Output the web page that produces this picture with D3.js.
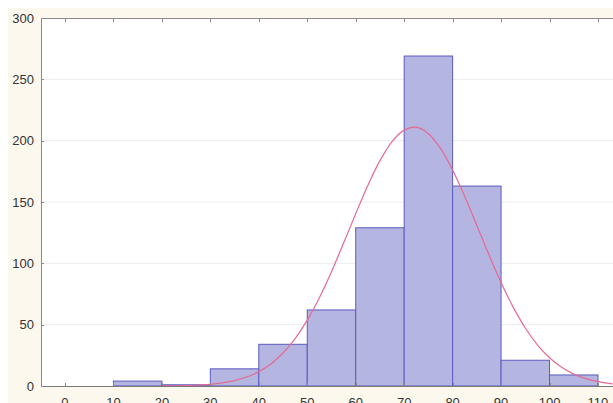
<!DOCTYPE html>
<html><head><meta charset="utf-8">
<script src="https://cdn.jsdelivr.net/npm/d3@7"></script>
<style>html,body{margin:0;padding:0;background:#fff;}svg{display:block;}</style>
</head><body>
<svg id="chart" width="613" height="403"></svg>
<script>
// Histogram bins (lower edge, upper edge) and counts
const binStarts = [0, 10, 20, 30, 40, 50, 60, 70, 80, 90, 100];
const binWidth = 10;
const counts = [0, 4, 1, 14, 34, 62, 129, 269, 163, 21, 9];
// Fitted normal curve
const curveX = [20,22.5,25,27.5,30,32.5,35,37.5,40,42.5,45,47.5,50,52.5,55,57.5,60,62.5,65,67.5,70,72.5,75,77.5,80,82.5,85,87.5,90,92.5,95,97.5,100,102.5,105,107.5,110,112.5,113];
const curveY = [0.1,0.2,0.4,0.8,1.4,2.6,4.4,7.3,11.7,18.0,26.9,38.7,53.7,72.0,93.2,116.5,140.4,163.5,183.7,199.3,208.6,211,205.7,193.7,176.1,154.5,130.9,107.0,84.4,64.3,47.3,33.6,23.0,15.2,9.7,6.0,3.6,2.0,1.7];
const xTicks = [0,10,20,30,40,50,60,70,80,90,100,110];
const yTicks = [0,50,100,150,200,250,300];

const svg = d3.select("#chart");
const L = 41, R = 613, T = 18, B = 386;
const x = d3.scaleLinear().domain([-4.95, 113.1]).range([L, R]);
const y = d3.scaleLinear().domain([0, 300]).range([B, T]);

// backgrounds
svg.append("rect").attr("x",8).attr("y",8).attr("width",605).attr("height",395).attr("fill","#fdf8ee");
svg.append("rect").attr("x",L).attr("y",T).attr("width",R-L).attr("height",B-T).attr("fill","#ffffff");

// gridlines
svg.append("g").selectAll("line").data(yTicks.filter(d=>d>0 && d<300)).join("line")
  .attr("x1",L).attr("x2",R).attr("y1",d=>y(d)).attr("y2",d=>y(d))
  .attr("stroke","#ececec").attr("stroke-width",1);

// bars
svg.append("g").selectAll("rect").data(binStarts.map((s,i)=>({s, c:counts[i]})).filter(d=>d.c>0)).join("rect")
  .attr("x",d=>x(d.s)).attr("width",d=>x(d.s+binWidth)-x(d.s))
  .attr("y",d=>y(d.c)).attr("height",d=>y(0)-y(d.c))
  .attr("fill","#b5b5e1").attr("stroke","#5b5bc2").attr("stroke-width",1);

// curve
const line = d3.line().x((d,i)=>x(curveX[i])).y(d=>y(d)).curve(d3.curveCatmullRom);
svg.append("path").attr("d",line(curveY)).attr("fill","none")
  .attr("stroke","#e56a92").attr("stroke-width",1.2);

// axes
const ax = svg.append("g").attr("font-family","'Liberation Sans', Arial, sans-serif").attr("font-size",13).attr("fill","#333");
// frame lines
ax.append("line").attr("x1",L).attr("x2",R).attr("y1",T+0.5).attr("y2",T+0.5).attr("stroke","#8a8a8a");
ax.append("line").attr("x1",L).attr("x2",R).attr("y1",B+0.5).attr("y2",B+0.5).attr("stroke","#7a7a7a");
ax.append("line").attr("x1",L+0.5).attr("x2",L+0.5).attr("y1",T).attr("y2",B+1).attr("stroke","#8a8a8a");
// x ticks (top, inward) and bottom
ax.selectAll(".tt").data(xTicks).join("line").attr("class","tt")
  .attr("x1",d=>Math.round(x(d))+0.5).attr("x2",d=>Math.round(x(d))+0.5).attr("y1",T).attr("y2",T+4).attr("stroke","#8a8a8a");
ax.selectAll(".bt").data(xTicks).join("line").attr("class","bt")
  .attr("x1",d=>Math.round(x(d))+0.5).attr("x2",d=>Math.round(x(d))+0.5).attr("y1",B).attr("y2",B-3).attr("stroke","#8a8a8a");
ax.selectAll(".xl").data(xTicks).join("text").attr("class","xl")
  .attr("x",d=>x(d)).attr("y",407).attr("text-anchor","middle").text(d=>d);
// y ticks
ax.selectAll(".yt").data(yTicks).join("line").attr("class","yt")
  .attr("x1",L).attr("x2",L+3).attr("y1",d=>Math.round(y(d))+0.5).attr("y2",d=>Math.round(y(d))+0.5).attr("stroke","#8a8a8a");
ax.selectAll(".yl").data(yTicks).join("text").attr("class","yl")
  .attr("x",34).attr("y",d=>y(d)).attr("dy","0.35em").attr("text-anchor","end").text(d=>d);
</script>
</body></html>
